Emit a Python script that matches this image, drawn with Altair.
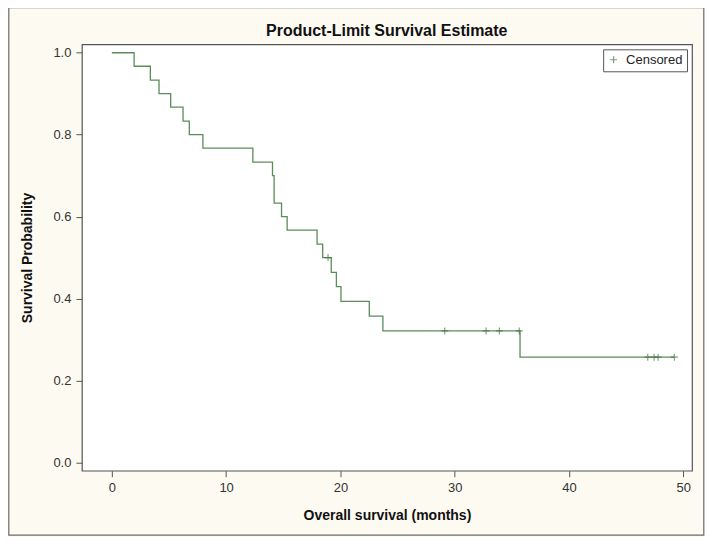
import altair as alt
import pandas as pd

# Kaplan-Meier step curve (time in months, survival probability)
step_times = [0, 1.95, 3.37, 4.13, 5.15, 6.23, 6.78, 7.97, 12.34, 14.06, 14.2, 14.85,
              15.34, 17.96, 18.45, 19.2, 19.65, 20.05, 22.53, 23.72, 35.72, 49.22]
step_surv = [1.0, 0.967, 0.933, 0.9, 0.867, 0.833, 0.8, 0.767, 0.733, 0.7, 0.633, 0.6,
             0.567, 0.533, 0.5, 0.464, 0.429, 0.393, 0.357, 0.321, 0.257, 0.257]

# Censored observations
cens_times = [18.92, 29.13, 32.75, 33.91, 35.65, 46.9, 47.45, 47.8, 49.22]
cens_surv = [0.5, 0.321, 0.321, 0.321, 0.321, 0.257, 0.257, 0.257, 0.257]

x_ticks = [0, 10, 20, 30, 40, 50]
y_ticks = [0.0, 0.2, 0.4, 0.6, 0.8, 1.0]

title_text = ["Product-Limit Survival Estimate"]

GREEN = "#5b8c5b"
TICKGREEN = "#3f6f3f"
FONT = "Liberation Sans"
PLUS = "M0,-1L0,1M-1,0L1,0"

steps = pd.DataFrame({"t": step_times, "s": step_surv})
cens = pd.DataFrame({"t": cens_times, "s": cens_surv, "label": ["Censored"] * len(cens_times)})

xscale = alt.Scale(domain=[-2.62, 50.77], nice=False, zero=False)
yscale = alt.Scale(domain=[-0.0202, 1.0205], nice=False, zero=False)

xaxis = alt.Axis(values=x_ticks, title="Overall survival (months)", format="d",
                 titleFontSize=14, titleFontWeight="bold", titlePadding=14)
yaxis = alt.Axis(values=y_ticks, title="Survival Probability", format=".1f",
                 titleFontSize=14, titleFontWeight="bold", titlePadding=18)

frame = alt.Chart(pd.DataFrame({"a": [0]})).mark_rect(
    fill="transparent", stroke="#6a6a6a", strokeWidth=1.2
).encode(
    x=alt.value(-73.2), x2=alt.value(622.8), y=alt.value(-36.8), y2=alt.value(491.5)
)

title = alt.Chart(pd.DataFrame({"title": title_text})).mark_text(
    font=FONT, fontSize=16, fontWeight="bold", color="#111111",
    align="center", baseline="alphabetic"
).encode(
    text="title:N", x=alt.value(305.3), y=alt.value(-8)
)

line = alt.Chart(steps).mark_line(interpolate="step-after", color=GREEN, strokeWidth=1.3).encode(
    x=alt.X("t:Q", scale=xscale, axis=xaxis),
    y=alt.Y("s:Q", scale=yscale, axis=yaxis),
)

marks = alt.Chart(cens).mark_point(shape=PLUS, filled=False, size=49, strokeWidth=1.1).encode(
    x=alt.X("t:Q", scale=xscale),
    y=alt.Y("s:Q", scale=yscale),
    color=alt.Color("label:N", scale=alt.Scale(domain=["Censored"], range=[TICKGREEN]),
                    legend=alt.Legend(title=None, orient="top-right", offset=5,
                                      strokeColor="#555555", fillColor="white", padding=4,
                                      symbolType=PLUS, symbolSize=49, symbolStrokeWidth=1.1,
                                      symbolStrokeColor=GREEN,
                                      labelFontSize=13, labelFont=FONT, labelColor="#222222",
                                      labelOffset=6)),
)

chart = alt.layer(frame, title, line, marks).properties(
    width=611, height=427,
    autosize=alt.AutoSizeParams(type="none"),
    padding={"left": 74, "top": 36, "right": 13, "bottom": 66},
).configure(
    background="#fdfaf2",
    font=FONT,
).configure_view(
    fill="white", stroke="#555555", strokeWidth=1.2
).configure_axis(
    domain=False, grid=False, tickColor="#555555", tickSize=6, tickWidth=1,
    labelFont=FONT, labelFontSize=13, labelColor="#333333", labelPadding=5,
    titleFont=FONT, titleColor="#111111",
)

chart.save("out.html", embed_options={"renderer": "svg", "actions": False})
